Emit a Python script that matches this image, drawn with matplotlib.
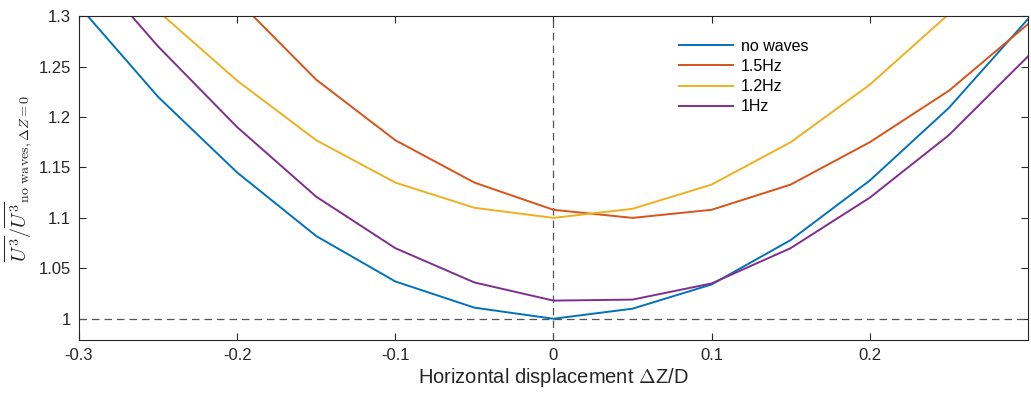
import matplotlib
matplotlib.use("Agg")
import matplotlib.pyplot as plt

plt.rcParams['font.family'] = ['Liberation Sans', 'DejaVu Sans']
plt.rcParams['mathtext.fontset'] = 'cm'

dz = [-0.3, -0.25, -0.2, -0.15, -0.1, -0.05, 0.0, 0.05, 0.1, 0.15, 0.2, 0.25, 0.3]
no_waves = [1.31, 1.22, 1.145, 1.082, 1.037, 1.011, 1.0, 1.01, 1.034, 1.078, 1.137, 1.209, 1.297]
f15 = [1.50, 1.41, 1.316, 1.237, 1.177, 1.135, 1.108, 1.10, 1.108, 1.133, 1.175, 1.226, 1.292]
f12 = [1.39, 1.305, 1.236, 1.177, 1.135, 1.11, 1.10, 1.109, 1.133, 1.175, 1.232, 1.302, 1.39]
f10 = [1.36, 1.27, 1.19, 1.121, 1.07, 1.036, 1.018, 1.019, 1.035, 1.07, 1.12, 1.182, 1.26]

series = [
    ("no waves", no_waves, "#0072BD"),
    ("1.5Hz", f15, "#D95319"),
    ("1.2Hz", f12, "#EDB120"),
    ("1Hz", f10, "#7E2F8E"),
]

fig = plt.figure(figsize=(10.31, 3.93), dpi=100)
ax = fig.add_axes([0.0766, 0.135, 0.9204, 0.824])

ax.axvline(0, color="#555555", linestyle=(0, (6, 4)), linewidth=0.9)
ax.axhline(1, color="#555555", linestyle=(0, (6, 4)), linewidth=0.9)

for name, vals, col in series:
    ax.plot(dz, vals, color=col, linewidth=1.4, label=name)

ax.set_xlim(-0.3, 0.3)
ax.set_ylim(0.979, 1.3)
ax.set_xticks([-0.3, -0.2, -0.1, 0, 0.1, 0.2])
ax.set_xticklabels(["-0.3", "-0.2", "-0.1", "0", "0.1", "0.2"])
ax.set_yticks([1, 1.05, 1.1, 1.15, 1.2, 1.25, 1.3])
ax.set_yticklabels(["1", "1.05", "1.1", "1.15", "1.2", "1.25", "1.3"])
ax.tick_params(direction="in", top=True, right=True, length=5, width=0.8,
               colors="#262626", labelsize=12, pad=6)
for s in ax.spines.values():
    s.set_color("#262626")
    s.set_linewidth(0.8)

ax.set_xlabel(r"Horizontal displacement $\Delta$Z/D", fontsize=14.5, color="#262626",
              labelpad=2)
ax.set_ylabel(r"$\overline{U^3}/\overline{U^3}_{\mathrm{no\ waves},\Delta Z=0}$",
              fontsize=14.5, color="#262626", labelpad=2)

ax.legend(loc="upper left", bbox_to_anchor=(0.617, 0.975), frameon=False,
          fontsize=11.5, handlelength=3.4, handletextpad=0.5, labelspacing=0.33)

fig.savefig("out.png", dpi=100)
